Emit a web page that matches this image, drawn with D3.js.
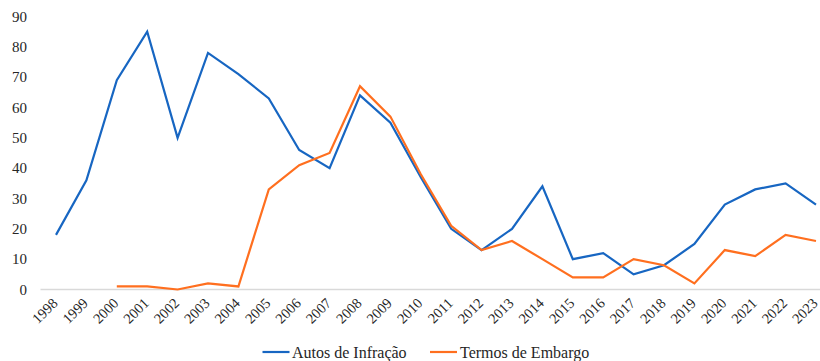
<!DOCTYPE html>
<html><head><meta charset="utf-8">
<script src="https://cdn.jsdelivr.net/npm/d3@7"></script>
<style>body{margin:0;background:#fff}svg{display:block}#c text{font-family:"Liberation Serif",serif !important}</style>
</head><body><svg id="c" width="820" height="361"></svg>
<script>
const years = ["1998","1999","2000","2001","2002","2003","2004","2005","2006","2007","2008","2009","2010","2011","2012","2013","2014","2015","2016","2017","2018","2019","2020","2021","2022","2023"];
const autos = [18,36,69,85,50,78,71,63,46,40,64,55,37,20,13,20,34,10,12,5,8,15,28,33,35,28];
const termos = [null,null,1,1,0,2,1,33,41,45,67,57,38,21,13,16,10,4,4,10,8,2,13,11,18,16];
const yTicks = [0,10,20,30,40,50,60,70,80,90];
const seriesNames = ["Autos de Infração","Termos de Embargo"];
const colors = ["#1766C2","#FF6F1F"];

const FONT = "Liberation Serif";
const svg = d3.select("#c");
const txtColor = "#262626";
const x = d3.scaleBand().domain(years).range([40.8, 831.2]);
const y = d3.scaleLinear().domain([0,90]).range([289.5, 16.5]);
const cx = d => x(d) + x.bandwidth()/2;

function font(sel, size){ return sel.attr("font-family",FONT).style("font-family","'Liberation Serif', serif","important").attr("fill",txtColor).attr("font-size",size); }

// y labels
svg.append("g").selectAll("text").data(yTicks).join("text")
  .attr("x", 27).attr("y", d => y(d)).attr("dy","0.35em")
  .attr("text-anchor","end").call(font, 15).text(d => d);

// axis line
svg.append("line").attr("x1",40.5).attr("x2",831).attr("y1",y(0)).attr("y2",y(0))
  .attr("stroke","#d9d9d9").attr("stroke-width",1.3);

// x labels
svg.append("g").selectAll("text").data(years).join("text")
  .attr("transform", d => `translate(${cx(d)-1},${y(0)+11}) rotate(-45)`)
  .attr("text-anchor","end").attr("dy","0.35em").call(font, 14.5).text(d => d);

const line = d3.line().defined(d => d[1] != null).x(d => cx(d[0])).y(d => y(d[1]));
[autos, termos].forEach((s,i) => {
  svg.append("path").datum(years.map((yr,j)=>[yr,s[j]]))
    .attr("d", line).attr("fill","none").attr("stroke",colors[i])
    .attr("stroke-width",2.2).attr("stroke-linejoin","miter");
});

// legend
const leg = [{x:262.5, tx:292}, {x:430, tx:460}];
leg.forEach((l,i) => {
  svg.append("line").attr("x1",l.x).attr("x2",l.x+27).attr("y1",352).attr("y2",352)
    .attr("stroke",colors[i]).attr("stroke-width",2.2);
  svg.append("text").attr("x",l.tx).attr("y",352).attr("dy","0.35em")
    .call(font, 16).text(seriesNames[i]);
});
</script></body></html>
